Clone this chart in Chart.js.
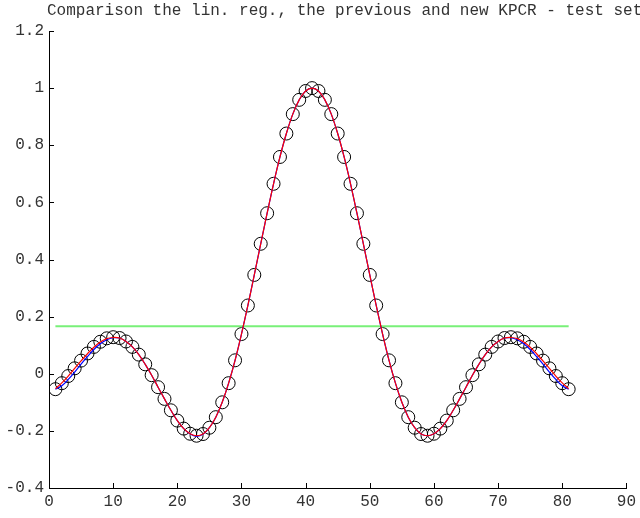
<!DOCTYPE html>
<html>
<head>
<meta charset="utf-8">
<script src="https://cdn.jsdelivr.net/npm/chart.js@4/dist/chart.umd.min.js"></script>
<style>
  html, body { margin: 0; padding: 0; background: #fff; }
  #wrap { width: 640px; height: 518px; }
</style>
</head>
<body>
<div id="wrap"><canvas id="kpcrChart" width="640" height="518"></canvas></div>
<script>
const title = 'Comparison the lin. reg., the previous and new KPCR - test set';

const sampleIdx = [1, 2, 3, 4, 5, 6, 7, 8, 9, 10, 11, 12, 13, 14, 15, 16, 17, 18, 19, 20,
    21, 22, 23, 24, 25, 26, 27, 28, 29, 30, 31, 32, 33, 34, 35, 36, 37, 38, 39, 40,
    41, 42, 43, 44, 45, 46, 47, 48, 49, 50, 51, 52, 53, 54, 55, 56, 57, 58, 59, 60,
    61, 62, 63, 64, 65, 66, 67, 68, 69, 70, 71, 72, 73, 74, 75, 76, 77, 78, 79, 80, 81];

// test set targets (circles)
const testSet = [-0.054, -0.033, -0.008, 0.019, 0.046, 0.071, 0.094, 0.112, 0.124, 0.128,
    0.125, 0.113, 0.094, 0.067, 0.033, -0.005, -0.047, -0.088, -0.128, -0.164,
    -0.192, -0.210, -0.217, -0.211, -0.189, -0.152, -0.100, -0.033, 0.047, 0.139,
    0.239, 0.346, 0.455, 0.562, 0.665, 0.759, 0.841, 0.909, 0.959, 0.990,
    1.000, 0.990, 0.959, 0.909, 0.841, 0.759, 0.665, 0.562, 0.455, 0.346,
    0.239, 0.139, 0.047, -0.033, -0.100, -0.152, -0.189, -0.211, -0.217, -0.210,
    -0.192, -0.164, -0.128, -0.088, -0.047, -0.005, 0.033, 0.067, 0.094, 0.113,
    0.125, 0.128, 0.124, 0.112, 0.094, 0.071, 0.046, 0.019, -0.008, -0.033, -0.054];

// new KPCR (red)
const newKpcr = [-0.052, -0.032, -0.008, 0.019, 0.045, 0.070, 0.093, 0.111, 0.123, 0.127,
    0.125, 0.113, 0.094, 0.067, 0.033, -0.005, -0.047, -0.088, -0.128, -0.164,
    -0.192, -0.210, -0.217, -0.211, -0.189, -0.152, -0.100, -0.033, 0.047, 0.139,
    0.239, 0.346, 0.455, 0.562, 0.665, 0.759, 0.841, 0.909, 0.959, 0.990,
    1.000, 0.990, 0.959, 0.909, 0.841, 0.759, 0.665, 0.562, 0.455, 0.346,
    0.239, 0.139, 0.047, -0.033, -0.100, -0.152, -0.189, -0.211, -0.217, -0.210,
    -0.192, -0.164, -0.128, -0.088, -0.047, -0.005, 0.033, 0.067, 0.094, 0.113,
    0.125, 0.127, 0.123, 0.111, 0.093, 0.070, 0.045, 0.019, -0.008, -0.032, -0.052];

// previous KPCR (blue)
const prevKpcr = [-0.054, -0.042, -0.020, 0.006, 0.034, 0.060, 0.085, 0.105, 0.119, 0.126,
    0.125, 0.113, 0.094, 0.067, 0.033, -0.005, -0.047, -0.088, -0.128, -0.164,
    -0.192, -0.211, -0.219, -0.212, -0.189, -0.152, -0.100, -0.033, 0.047, 0.139,
    0.239, 0.346, 0.455, 0.562, 0.665, 0.759, 0.841, 0.909, 0.959, 0.990,
    1.000, 0.990, 0.959, 0.909, 0.841, 0.759, 0.665, 0.562, 0.455, 0.346,
    0.239, 0.139, 0.047, -0.033, -0.100, -0.152, -0.189, -0.211, -0.217, -0.210,
    -0.192, -0.164, -0.128, -0.088, -0.047, -0.005, 0.033, 0.067, 0.094, 0.113,
    0.125, 0.126, 0.119, 0.105, 0.085, 0.060, 0.034, 0.006, -0.020, -0.042, -0.054];

// linear regression (green, constant)
const linReg = 0.166;

const xTicks = [0, 10, 20, 30, 40, 50, 60, 70, 80, 90];
const yTickLabels = ['-0.4', '-0.2', '0', '0.2', '0.4', '0.6', '0.8', '1', '1.2'];

const font = { family: "'Liberation Mono', 'DejaVu Sans Mono', monospace", size: 16 };

function pts(vals) {
    return sampleIdx.map((x, i) => ({ x: x, y: vals[i] }));
}

// inward tick marks + title
const axesPlugin = {
    id: 'axesPlugin',
    afterDraw(chart) {
        const ctx = chart.ctx;
        const xs = chart.scales.x, ys = chart.scales.y;
        const a = chart.chartArea;
        ctx.save();
        ctx.strokeStyle = '#000';
        ctx.lineWidth = 1;
        ctx.beginPath();
        xs.ticks.forEach(t => {
            let px = Math.round(xs.getPixelForValue(t.value)) + 0.5;
            ctx.moveTo(px, a.bottom);
            ctx.lineTo(px, a.bottom - 5);
        });
        ys.ticks.forEach(t => {
            let py = Math.round(ys.getPixelForValue(t.value)) + 0.5;
            ctx.moveTo(a.left, py);
            ctx.lineTo(a.left + 5, py);
        });
        ctx.stroke();
        ctx.fillStyle = '#333';
        ctx.font = "16px 'Liberation Mono', 'DejaVu Sans Mono', monospace";
        ctx.textBaseline = 'middle';
        ctx.textAlign = 'left';
        ctx.fillText(title, 47, 11);
        ctx.restore();
    }
};

let ctx = document.getElementById('kpcrChart').getContext('2d');

let kpcrChart = new Chart(ctx, {
    type: 'line',
    data: {
        datasets: [{
            label: 'new KPCR',
            data: pts(newKpcr),
            borderColor: '#ff0000',
            borderWidth: 1.2,
            pointRadius: 0,
            tension: 0.4
        }, {
            label: 'previous KPCR',
            data: pts(prevKpcr),
            borderColor: '#0000ff',
            borderWidth: 1.2,
            pointRadius: 0,
            tension: 0.4
        }, {
            label: 'lin. reg.',
            data: pts(sampleIdx.map(() => linReg)),
            borderColor: 'rgb(120, 240, 120)',
            borderWidth: 2,
            pointRadius: 0
        }, {
            label: 'test set',
            data: pts(testSet),
            showLine: false,
            borderColor: '#000',
            backgroundColor: 'rgba(0,0,0,0)',
            borderWidth: 1,
            pointRadius: 6.5,
            pointHoverRadius: 6.5
        }]
    },
    options: {
        responsive: false,
        maintainAspectRatio: false,
        animation: false,
        events: [],
        layout: {
            padding: { top: 31, left: 0, right: 11, bottom: 0 }
        },
        plugins: {
            legend: { display: false },
            tooltip: { enabled: false },
            title: { display: false }
        },
        scales: {
            x: {
                type: 'linear',
                min: 0,
                max: 90,
                afterBuildTicks: (scale) => { scale.ticks = xTicks.map(v => ({ value: v })); },
                afterFit: (scale) => { scale.height = 30; },
                ticks: {
                    color: '#333',
                    font: font,
                    padding: 4,
                    maxRotation: 0
                },
                grid: { drawOnChartArea: false, drawTicks: false },
                border: { display: true, color: '#000', width: 1 }
            },
            y: {
                min: -0.4,
                max: 1.2,
                ticks: {
                    stepSize: 0.2,
                    color: '#333',
                    font: font,
                    padding: 5,
                    callback: (v, i) => yTickLabels[i]
                },
                afterFit: (scale) => { scale.width = 49; },
                grid: { drawOnChartArea: false, drawTicks: false },
                border: { display: true, color: '#000', width: 1 }
            }
        }
    },
    plugins: [axesPlugin]
});
</script>
</body>
</html>
